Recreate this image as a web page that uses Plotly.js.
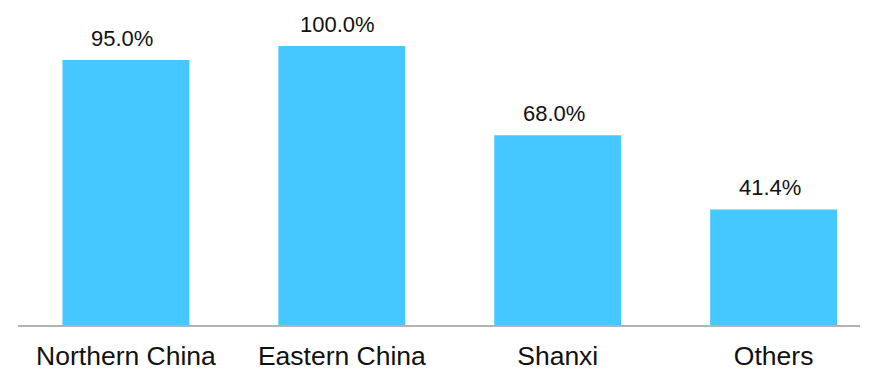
<!DOCTYPE html>
<html>
<head>
<meta charset="utf-8">
<script src="https://cdn.plot.ly/plotly-3.0.1.min.js"></script>
<style>html,body{margin:0;padding:0;background:#fff;}#chart{width:877px;height:371px;}</style>
</head>
<body>
<div id="chart"></div>
<script>
const categories = ["Northern China", "Eastern China", "Shanxi", "Others"];
const values = [0.95, 1.0, 0.68, 0.414];
const labels = ["95.0%", "100.0%", "68.0%", "41.4%"];

const trace = {
  type: "bar",
  x: categories,
  y: values,
  marker: {color: "#44C8FF"},
  hoverinfo: "skip"
};

const annotations = categories.map((c, i) => ({
  x: c, y: values[i], xref: "x", yref: "y",
  text: labels[i], showarrow: false,
  yanchor: "bottom", yshift: 7, xshift: -4,
  font: {family: "Liberation Sans, Arial, sans-serif", size: 22, color: "#111"}
}));

const layout = {
  width: 877, height: 371,
  margin: {l: 18, r: 17, t: 10, b: 46},
  paper_bgcolor: "#fff", plot_bgcolor: "#fff",
  bargap: 0.412,
  showlegend: false,
  xaxis: {
    type: "category", range: [-0.5, 3.4],
    showline: true, linecolor: "#B3B3B3", linewidth: 1.5,
    ticks: "", showgrid: false, zeroline: false,
    ticklabelstandoff: 7,
    tickfont: {family: "Liberation Sans, Arial, sans-serif", size: 26.5, color: "#111"}
  },
  yaxis: {
    range: [0, 1.129], visible: false, showgrid: false, zeroline: false
  },
  annotations: annotations
};

Plotly.newPlot("chart", [trace], layout, {displayModeBar: false, staticPlot: true});
</script>
</body>
</html>
